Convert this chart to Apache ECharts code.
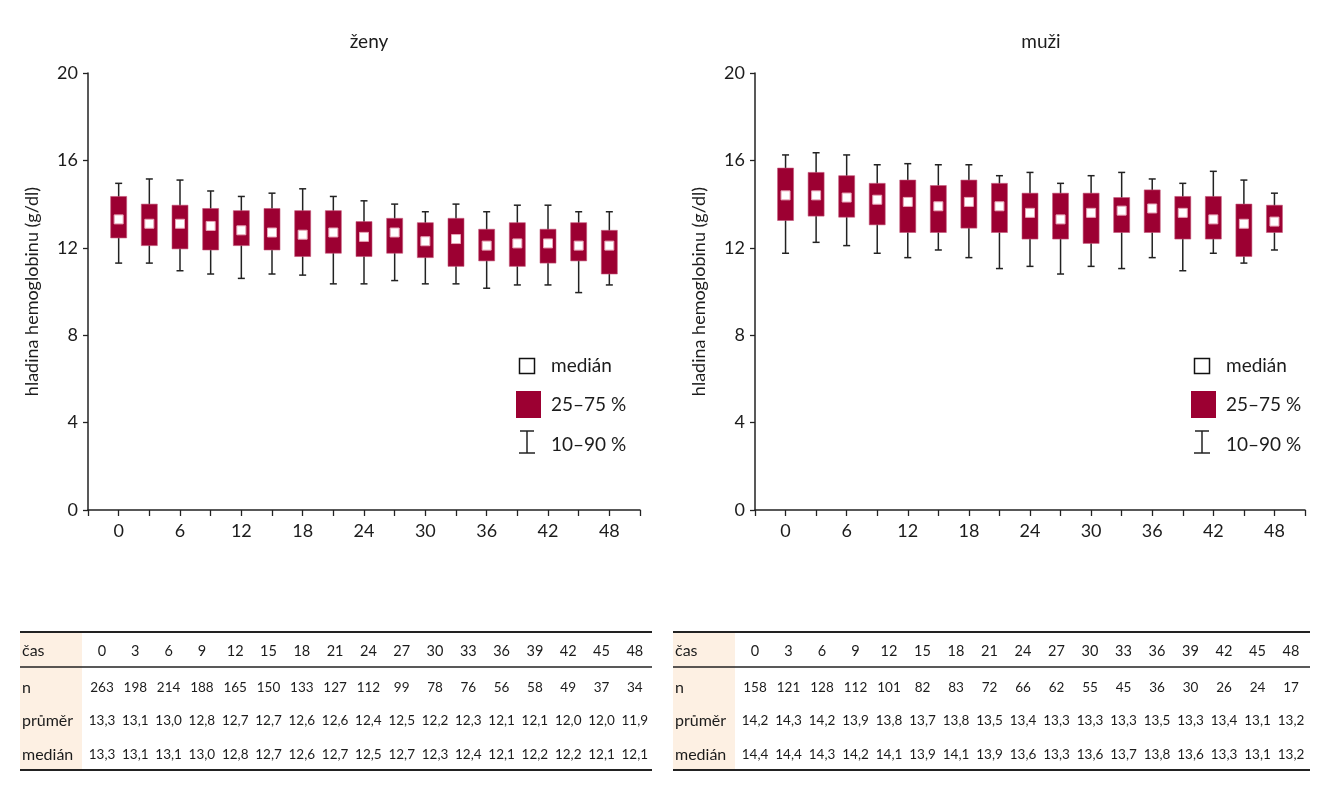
<!DOCTYPE html>
<html>
<head>
<meta charset="utf-8">
<script src="https://cdn.jsdelivr.net/npm/echarts@6/dist/echarts.min.js"></script>
<style>
  html, body { margin: 0; padding: 0; background: #fff; }
  #main { width: 1323px; height: 800px; }
</style>
</head>
<body>
<div id="main"></div>
<script>
const times = [0, 3, 6, 9, 12, 15, 18, 21, 24, 27, 30, 33, 36, 39, 42, 45, 48];
const xTickLabels = [0, 6, 12, 18, 24, 30, 36, 42, 48];

// ženy (women)
const femaleP10 = [11.3, 11.3, 10.95, 10.8, 10.6, 10.8, 10.75, 10.35, 10.35, 10.5, 10.35, 10.35, 10.15, 10.3, 10.3, 9.95, 10.3];
const femaleP25 = [12.45, 12.1, 11.95, 11.9, 12.1, 11.9, 11.6, 11.75, 11.6, 11.75, 11.55, 11.15, 11.4, 11.15, 11.3, 11.4, 10.8];
const femaleP75 = [14.35, 14.0, 13.95, 13.8, 13.7, 13.8, 13.7, 13.7, 13.2, 13.35, 13.15, 13.35, 12.85, 13.15, 12.85, 13.15, 12.8];
const femaleP90 = [14.95, 15.15, 15.1, 14.6, 14.35, 14.5, 14.7, 14.35, 14.15, 14.0, 13.65, 14.0, 13.65, 13.95, 13.95, 13.65, 13.65];
const femaleN = [263, 198, 214, 188, 165, 150, 133, 127, 112, 99, 78, 76, 56, 58, 49, 37, 34];
const femaleMean = [13.3, 13.1, 13.0, 12.8, 12.7, 12.7, 12.6, 12.6, 12.4, 12.5, 12.2, 12.3, 12.1, 12.1, 12.0, 12.0, 11.9];
const femaleMedian = [13.3, 13.1, 13.1, 13.0, 12.8, 12.7, 12.6, 12.7, 12.5, 12.7, 12.3, 12.4, 12.1, 12.2, 12.2, 12.1, 12.1];

// muži (men)
const maleP10 = [11.75, 12.25, 12.1, 11.75, 11.55, 11.9, 11.55, 11.05, 11.15, 10.8, 11.15, 11.05, 11.55, 10.95, 11.75, 11.3, 11.9];
const maleP25 = [13.25, 13.45, 13.4, 13.05, 12.7, 12.7, 12.9, 12.7, 12.4, 12.4, 12.2, 12.7, 12.7, 12.4, 12.4, 11.6, 12.7];
const maleP75 = [15.65, 15.45, 15.3, 14.95, 15.1, 14.85, 15.1, 14.95, 14.5, 14.5, 14.5, 14.3, 14.65, 14.35, 14.35, 14.0, 13.95];
const maleP90 = [16.25, 16.35, 16.25, 15.8, 15.85, 15.8, 15.8, 15.3, 15.45, 14.95, 15.3, 15.45, 15.15, 14.95, 15.5, 15.1, 14.5];
const maleN = [158, 121, 128, 112, 101, 82, 83, 72, 66, 62, 55, 45, 36, 30, 26, 24, 17];
const maleMean = [14.2, 14.3, 14.2, 13.9, 13.8, 13.7, 13.8, 13.5, 13.4, 13.3, 13.3, 13.3, 13.5, 13.3, 13.4, 13.1, 13.2];
const maleMedian = [14.4, 14.4, 14.3, 14.2, 14.1, 13.9, 14.1, 13.9, 13.6, 13.3, 13.6, 13.7, 13.8, 13.6, 13.3, 13.1, 13.2];

const BOX_COLOR = "#9c0032";
const TEXT = "#1c1c1c";
const FONT = "Lato";

const chart = echarts.init(document.getElementById("main"));

function boxData(p10, p25, med, p75, p90) {
  return times.map((t, i) => [t, p10[i], p25[i], med[i], p75[i], p90[i]]);
}

function renderBox(params, api) {
  const t = api.value(0);
  const x = api.coord([t, 0])[0];
  const y10 = api.coord([t, api.value(1)])[1];
  const y25 = api.coord([t, api.value(2)])[1];
  const yMed = api.coord([t, api.value(3)])[1];
  const y75 = api.coord([t, api.value(4)])[1];
  const y90 = api.coord([t, api.value(5)])[1];
  const w = 16, cap = 7, m = 9;
  const ln = { stroke: "#222", lineWidth: 1.5 };
  return {
    type: "group",
    children: [
      { type: "line", shape: { x1: x, y1: y90, x2: x, y2: y10 }, style: ln },
      { type: "line", shape: { x1: x - cap / 2, y1: y90, x2: x + cap / 2, y2: y90 }, style: ln },
      { type: "line", shape: { x1: x - cap / 2, y1: y10, x2: x + cap / 2, y2: y10 }, style: ln },
      { type: "rect", shape: { x: x - w / 2, y: y75, width: w, height: y25 - y75 },
        style: { fill: BOX_COLOR, stroke: "#c4577a", lineWidth: 0.6 } },
      { type: "rect", shape: { x: x - m / 2, y: yMed - m / 2, width: m, height: m },
        style: { fill: "#fff", stroke: "#e8a3b6", lineWidth: 1 } },
    ],
  };
}

function makeXAxis(gridIndex) {
  return {
    type: "value",
    gridIndex: gridIndex,
    min: -3,
    max: 51,
    interval: 3,
    axisLine: { lineStyle: { color: "#222", width: 1.5 } },
    axisTick: { length: 6, lineStyle: { color: "#222", width: 1.3 } },
    axisLabel: {
      color: TEXT, fontFamily: FONT, fontSize: 18, margin: 12,
      formatter: (v) => (xTickLabels.includes(v) ? String(v) : ""),
    },
    splitLine: { show: false },
  };
}

function makeYAxis(gridIndex) {
  return {
    type: "value",
    gridIndex: gridIndex,
    min: 0,
    max: 20,
    interval: 4,
    name: "hladina hemoglobinu (g/dl)",
    nameLocation: "middle",
    nameGap: 47,
    nameTextStyle: { color: TEXT, fontFamily: FONT, fontSize: 18 },
    axisLine: { show: true, onZero: false, lineStyle: { color: "#222", width: 1.5 } },
    axisTick: { show: true, length: 5, lineStyle: { color: "#222", width: 1.3 } },
    axisLabel: { color: TEXT, fontFamily: FONT, fontSize: 18, margin: 10 },
    splitLine: { show: false },
  };
}

function legend(dx) {
  const txt = (y, s) => ({
    type: "text", x: 551 + dx, y: y,
    style: { text: s, fill: TEXT, font: "19px " + FONT, textVerticalAlign: "middle" },
  });
  return [
    { type: "rect", shape: { x: 519.5 + dx, y: 358.5, width: 15, height: 15 },
      style: { fill: "#fff", stroke: "#111", lineWidth: 1.5 } },
    txt(366, "medián"),
    { type: "rect", shape: { x: 516 + dx, y: 391, width: 25, height: 27 }, style: { fill: BOX_COLOR } },
    txt(405, "25–75 %"),
    { type: "line", shape: { x1: 527 + dx, y1: 431, x2: 527 + dx, y2: 453 }, style: { stroke: "#222", lineWidth: 1.5 } },
    { type: "line", shape: { x1: 520 + dx, y1: 431, x2: 534 + dx, y2: 431 }, style: { stroke: "#222", lineWidth: 1.5 } },
    { type: "line", shape: { x1: 519 + dx, y1: 453, x2: 535 + dx, y2: 453 }, style: { stroke: "#222", lineWidth: 1.5 } },
    txt(445, "10–90 %"),
  ];
}

function fmt(v) {
  return v.toFixed(1).replace(".", ",");
}

function table(x0, x1, col0, colStep, n, mean, med) {
  const els = [];
  const top = 632, bottom = 770;
  els.push({ type: "rect", shape: { x: x0, y: top, width: 62, height: bottom - top },
    style: { fill: "#fdf0e3" } });
  els.push({ type: "line", shape: { x1: x0, y1: top, x2: x1, y2: top }, style: { stroke: "#222", lineWidth: 2 } });
  els.push({ type: "line", shape: { x1: x0, y1: 667, x2: x1, y2: 667 }, style: { stroke: "#222", lineWidth: 1.5 } });
  els.push({ type: "line", shape: { x1: x0, y1: bottom, x2: x1, y2: bottom }, style: { stroke: "#222", lineWidth: 2 } });
  const rows = [
    { y: 651, label: "čas", vals: times.map(String), size: 14.5 },
    { y: 688, label: "n", vals: n.map(String), size: 13.5 },
    { y: 721, label: "průměr", vals: mean.map(fmt), size: 13.5 },
    { y: 755, label: "medián", vals: med.map(fmt), size: 13.5 },
  ];
  rows.forEach((r) => {
    els.push({ type: "text", x: x0 + 2, y: r.y,
      style: { text: r.label, fill: TEXT, font: "16px " + FONT, textVerticalAlign: "middle" } });
    r.vals.forEach((v, i) => {
      els.push({ type: "text", x: col0 + i * colStep, y: r.y,
        style: { text: v, fill: TEXT, font: r.size + "px " + FONT, textAlign: "center", textVerticalAlign: "middle" } });
    });
  });
  return els;
}

const option = {
  animation: false,
  grid: [
    { left: 88, top: 73, width: 552, height: 437 },
    { left: 755, top: 73, width: 550, height: 437 },
  ],
  xAxis: [makeXAxis(0), makeXAxis(1)],
  yAxis: [makeYAxis(0), makeYAxis(1)],
  series: [
    {
      type: "custom", xAxisIndex: 0, yAxisIndex: 0,
      renderItem: renderBox,
      encode: { x: 0, y: [1, 2, 3, 4, 5] },
      data: boxData(femaleP10, femaleP25, femaleMedian, femaleP75, femaleP90),
    },
    {
      type: "custom", xAxisIndex: 1, yAxisIndex: 1,
      renderItem: renderBox,
      encode: { x: 0, y: [1, 2, 3, 4, 5] },
      data: boxData(maleP10, maleP25, maleMedian, maleP75, maleP90),
    },
  ],
  graphic: [
    { type: "text", x: 369, y: 42,
      style: { text: "ženy", fill: TEXT, font: "19px " + FONT, textAlign: "center", textVerticalAlign: "middle" } },
    { type: "text", x: 1041, y: 42,
      style: { text: "muži", fill: TEXT, font: "19px " + FONT, textAlign: "center", textVerticalAlign: "middle" } },
    ...legend(0),
    ...legend(675),
    ...table(20, 652, 102, 33.3, femaleN, femaleMean, femaleMedian),
    ...table(673, 1310, 755, 33.5, maleN, maleMean, maleMedian),
  ],
};

chart.setOption(option);
</script>
</body>
</html>
